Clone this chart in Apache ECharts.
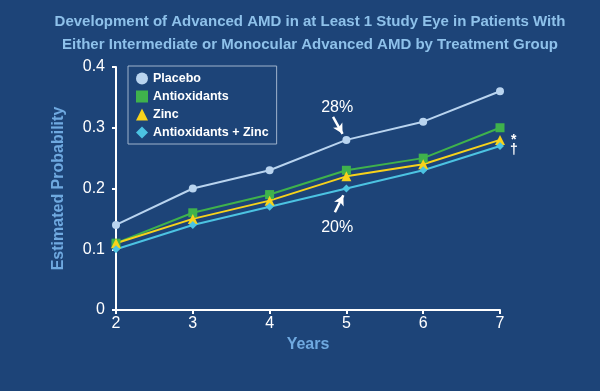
<!DOCTYPE html>
<html><head><meta charset="utf-8">
<script src="https://cdn.jsdelivr.net/npm/echarts@6/dist/echarts.min.js"></script>
<style>html,body{margin:0;padding:0;background:#1d4478;}#c{width:600px;height:391px;}</style>
</head><body><div id="c"></div>
<script>
const years = [2, 3, 4, 5, 6, 7];
const placebo = [0.14, 0.20, 0.23, 0.28, 0.31, 0.36];
const antioxidants = [0.11, 0.16, 0.19, 0.23, 0.25, 0.30];
const zinc = [0.11, 0.15, 0.18, 0.22, 0.24, 0.28];
const antiZinc = [0.10, 0.14, 0.17, 0.20, 0.23, 0.27];
const yTicks = ['0', '0.1', '0.2', '0.3', '0.4'];
const endMarks = { zinc: '*', antiZinc: '†' };

const chart = echarts.init(document.getElementById('c'));
const F = 'Liberation Sans, Arial, sans-serif';
const pairs = (arr, mark, offY) => years.map((y, i) => {
  const item = { value: [y, arr[i]] };
  if (mark && i === arr.length - 1) {
    item.label = { show: true, position: 'right', distance: 6, offset: [0, offY],
      formatter: mark, color: '#ffffff', fontFamily: F, fontWeight: 'bold', fontSize: 14 };
  }
  return item;
});
const lineSeries = (name, data, color, symbol, size, extra) => Object.assign({
  name, type: 'line', data, symbol, symbolSize: size,
  itemStyle: { color }, lineStyle: { color, width: 2 }, z: 3
}, extra || {});
const arrow = (from, to) => ({
  silent: true, symbol: ['none', 'arrow'], symbolSize: [8, 10],
  lineStyle: { color: '#ffffff', width: 2.5, type: 'solid' },
  label: { show: false },
  data: [[{ coord: from }, { coord: to }]]
});
const textMark = (pts, size, weight) => ({
  symbol: 'rect', symbolSize: 1, itemStyle: { color: 'rgba(0,0,0,0)' },
  label: { show: true, color: '#ffffff', fontFamily: F, fontSize: size, fontWeight: weight, position: 'inside' },
  data: pts
});

chart.setOption({
  backgroundColor: '#1d4478',
  animation: false,
  title: {
    text: 'Development of Advanced AMD in at Least 1 Study Eye in Patients With\nEither Intermediate or Monocular Advanced AMD by Treatment Group',
    left: 305, top: 5, textAlign: 'center',
    textStyle: { color: '#8ec1ea', fontFamily: F, fontWeight: 'bold', fontSize: 15, lineHeight: 23 }
  },
  legend: {
    orient: 'vertical', left: 128, top: 66, itemGap: 5, itemWidth: 12, itemHeight: 12,
    borderColor: '#9fb3cc', borderWidth: 1, padding: [6, 8, 5, 8],
    textStyle: { color: '#ffffff', fontFamily: F, fontWeight: 'bold', fontSize: 12.5 },
    data: [
      { name: 'Placebo', icon: 'circle' },
      { name: 'Antioxidants', icon: 'rect' },
      { name: 'Zinc', icon: 'triangle' },
      { name: 'Antioxidants + Zinc', icon: 'diamond' }
    ]
  },
  grid: { left: 116, right: 100, top: 67, bottom: 81 },
  xAxis: {
    type: 'value', min: 2, max: 7, interval: 1,
    name: 'Years', nameLocation: 'middle', nameGap: 22,
    nameTextStyle: { color: '#6fa9e0', fontFamily: F, fontWeight: 'bold', fontSize: 16 },
    axisLine: { lineStyle: { color: '#ffffff', width: 2 } },
    axisTick: { show: true, length: 4, lineStyle: { color: '#ffffff', width: 2 } },
    axisLabel: { color: '#ffffff', fontFamily: F, fontSize: 16, margin: 6 },
    splitLine: { show: false }
  },
  yAxis: {
    type: 'value', min: 0, max: 0.4, interval: 0.1,
    name: 'Estimated Probability', nameLocation: 'middle', nameGap: 49, nameRotate: 90,
    nameTextStyle: { color: '#6fa9e0', fontFamily: F, fontWeight: 'bold', fontSize: 16 },
    axisLine: { show: true, lineStyle: { color: '#ffffff', width: 2 } },
    axisTick: { show: true, length: 4, lineStyle: { color: '#ffffff', width: 2 } },
    axisLabel: { color: '#ffffff', fontFamily: F, fontSize: 16, margin: 11,
      formatter: v => yTicks[Math.round(v * 10)] },
    splitLine: { show: false }
  },
  series: [
    lineSeries('Placebo', pairs(placebo), '#b9d4ef', 'circle', 8, {
      markLine: arrow([4.826, 0.318], [4.95, 0.290]),
      markPoint: textMark([{ coord: [4.88, 0.3325], value: '28%' }], 16, 'normal')
    }),
    lineSeries('Antioxidants', pairs(antioxidants), '#3fb24c', 'rect', 9),
    lineSeries('Zinc', pairs(zinc, endMarks.zinc, 0), '#f7d21b', 'triangle', 10),
    lineSeries('Antioxidants + Zinc', pairs(antiZinc, endMarks.antiZinc, 4), '#4cc3e2', 'diamond', 8, {
      markLine: arrow([4.85, 0.161], [4.96, 0.189]),
      markPoint: textMark([{ coord: [4.88, 0.135], value: '20%' }], 16, 'normal')
    })
  ]
});
</script></body></html>
